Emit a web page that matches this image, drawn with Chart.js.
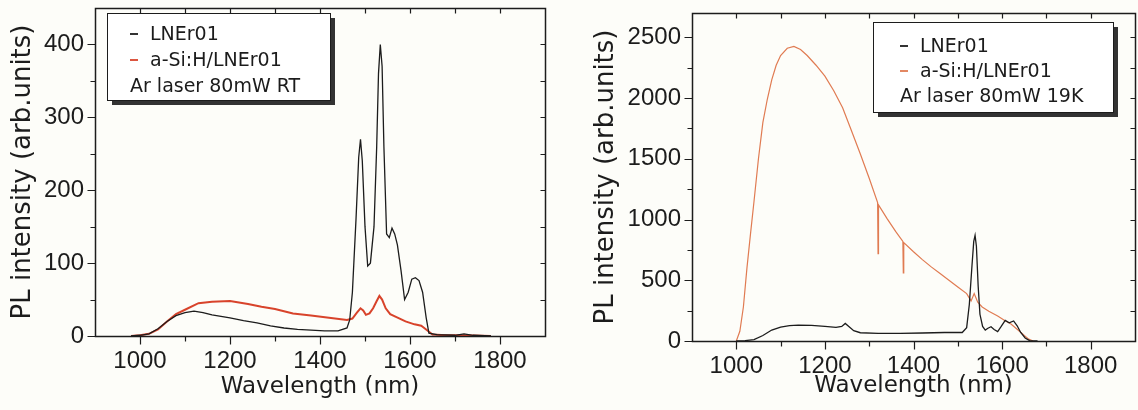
<!DOCTYPE html>
<html lang="en">
<head>
<meta charset="UTF-8">
<title>PL spectra LNEr01</title>
<script src="https://cdn.jsdelivr.net/npm/chart.js@4.4.1/dist/chart.umd.min.js"></script>
<style>
    body { margin: 0; background: #fdfdf9; }
    .wrap { position: relative; width: 1138px; height: 410px; }
    canvas { position: absolute; top: 0; }
    #rtChart { left: 0; }
    #lowTChart { left: 569px; }
</style>
</head>
<body>
<div class="wrap">
    <canvas id="rtChart" width="569" height="410"></canvas>
    <canvas id="lowTChart" width="569" height="410"></canvas>
</div>
<script>
// Tick labels
const xTickLabels = [1000, 1200, 1400, 1600, 1800];
const rtYTicks = [0, 100, 200, 300, 400];
const lowTYTicks = [0, 500, 1000, 1500, 2000, 2500];

// Room temperature, LNEr01 (black)
const rtBlackNm = [980, 1000, 1020, 1040, 1060, 1080, 1100, 1120, 1140, 1160, 1180, 1200, 1230, 1260, 1290, 1320, 1350, 1380, 1410, 1440, 1460, 1466, 1472, 1480, 1486, 1490, 1494, 1500, 1506, 1512, 1520, 1526, 1530, 1534, 1538, 1542, 1548, 1554, 1560, 1566, 1572, 1580, 1588, 1596, 1604, 1612, 1620, 1628, 1636, 1642, 1660, 1700, 1720, 1740, 1780];
const rtBlackVal = [0, 1, 3, 10, 20, 28, 32, 34, 32, 29, 27, 25, 21, 18, 14, 11, 9, 8, 7, 7, 11, 22, 60, 160, 245, 270, 240, 150, 96, 100, 150, 260, 360, 400, 370, 260, 140, 135, 148, 140, 125, 90, 50, 60, 78, 80, 76, 60, 25, 4, 2, 1, 3, 1, 0];

// Room temperature, a-Si:H/LNEr01 (red)
const rtRedNm = [980, 1000, 1020, 1040, 1060, 1080, 1100, 1130, 1160, 1200, 1240, 1270, 1300, 1340, 1380, 1420, 1460, 1472, 1482, 1490, 1496, 1502, 1510, 1518, 1526, 1532, 1538, 1546, 1556, 1570, 1590, 1610, 1625, 1638, 1650, 1680, 1720, 1780];
const rtRedVal = [0, 1, 3, 9, 20, 30, 36, 45, 47, 48, 44, 40, 37, 31, 28, 25, 22, 24, 32, 38, 35, 29, 31, 38, 48, 55, 50, 38, 30, 26, 20, 16, 14, 8, 2, 1, 1, 0];

// 19 K, LNEr01 (black)
const lowTBlackNm = [1000, 1020, 1040, 1060, 1080, 1100, 1120, 1140, 1170, 1200, 1225, 1238, 1246, 1254, 1265, 1280, 1320, 1370, 1420, 1470, 1510, 1520, 1526, 1532, 1536, 1539, 1542, 1546, 1550, 1556, 1562, 1568, 1575, 1582, 1590, 1598, 1607, 1616, 1626, 1634, 1642, 1652, 1662, 1680];
const lowTBlackVal = [0, 3, 12, 45, 90, 115, 127, 130, 128, 120, 112, 120, 145, 120, 85, 68, 62, 62, 66, 70, 70, 110, 300, 620, 820, 870, 780, 450, 220, 120, 90, 105, 117, 95, 78, 120, 170, 150, 165, 125, 70, 25, 3, 0];

// 19 K, a-Si:H/LNEr01 (red)
const lowTRedNm = [1000, 1008, 1016, 1024, 1032, 1040, 1050, 1060, 1070, 1080, 1090, 1100, 1115, 1130, 1145, 1160, 1180, 1200, 1220, 1240, 1260, 1280, 1300, 1319, 1320, 1321, 1340, 1360, 1376, 1377, 1378, 1400, 1420, 1440, 1460, 1480, 1500, 1520, 1530, 1537, 1545, 1555, 1570, 1590, 1605, 1620, 1636, 1650, 1660, 1670];
const lowTRedVal = [0, 80, 280, 600, 880, 1150, 1500, 1800, 1990, 2150, 2270, 2350, 2410, 2425, 2400, 2350, 2270, 2180, 2060, 1920, 1730, 1540, 1340, 1140, 720, 1120, 1010, 900, 820, 560, 810, 735, 670, 610, 555, 500, 445, 390, 330, 390, 320, 280, 245, 205, 170, 140, 90, 45, 15, 0];

const ink = '#1c1c1c';

function toXY(xs, ys) {
    return xs.map((x, i) => ({ x: x, y: ys[i] }));
}

// frame with mirrored ticks + boxed legend with shadow
function makeDecor(s) {
    return {
        id: 'decor',
        beforeDatasetsDraw(chart) {
            // drop shadow of the legend panel, laid down before the lines
            const ctx = chart.ctx;
            const L = s.legend;
            ctx.save();
            ctx.fillStyle = '#333333';
            ctx.fillRect(L.x + 5, L.y + 5, L.w, L.h);
            ctx.restore();
        },
        afterDraw(chart) {
            const ctx = chart.ctx;
            const a = chart.chartArea;
            const xs = chart.scales.x, ys = chart.scales.y;
            ctx.save();
            try {
                const l = Math.round(a.left) + 0.5, t = Math.round(a.top) + 0.5;
                const r = Math.round(a.right) + 0.5, b = Math.round(a.bottom) + 0.5;
                ctx.strokeStyle = ink;
                ctx.lineWidth = 1.5;
                ctx.strokeRect(l, t, r - l, b - t);

                ctx.lineWidth = 1.2;
                ctx.beginPath();
                for (let v = 1000; v <= 1800; v += 100) {
                    const px = Math.round(xs.getPixelForValue(v)) + 0.5;
                    const len = v % 200 === 0 ? 8 : 5;
                    ctx.moveTo(px, b);
                    ctx.lineTo(px, b + len);
                    ctx.moveTo(px, t);
                    ctx.lineTo(px, t + 5);
                }
                for (let v = 0; v < s.yMax; v += s.yMinor) {
                    const py = Math.round(ys.getPixelForValue(v)) + 0.5;
                    const len = v % s.yMajor === 0 ? 8 : 5;
                    ctx.moveTo(l, py);
                    ctx.lineTo(l - len, py);
                    if (v > 0) {
                        ctx.moveTo(r, py);
                        ctx.lineTo(r - 5, py);
                    }
                }
                ctx.stroke();

                // legend panel
                const L = s.legend;
                ctx.strokeStyle = '#333333';
                ctx.lineWidth = 5;
                ctx.beginPath();
                ctx.moveTo(L.x + L.w + 2.5, L.y + 5);
                ctx.lineTo(L.x + L.w + 2.5, L.y + L.h + 2.5);
                ctx.lineTo(L.x + 5, L.y + L.h + 2.5);
                ctx.stroke();

                ctx.fillStyle = '#ffffff';
                ctx.fillRect(L.x, L.y, L.w, L.h);
                ctx.lineWidth = 1;
                ctx.strokeStyle = ink;
                ctx.strokeRect(L.x + 0.5, L.y + 0.5, L.w, L.h);

                ctx.font = '19px "DejaVu Sans"';
                ctx.textBaseline = 'alphabetic';
                ctx.textAlign = 'left';
                const labels = ['LNEr01', 'a-Si:H/LNEr01'];
                const colors = [ink, s.redColor];
                labels.forEach((txt, i) => {
                    const base = L.y + L.first + i * L.step;
                    ctx.strokeStyle = colors[i];
                    ctx.lineWidth = 1.8;
                    ctx.beginPath();
                    ctx.moveTo(L.x + L.dashX, base - 6);
                    ctx.lineTo(L.x + L.dashX + 8, base - 6);
                    ctx.stroke();
                    ctx.fillStyle = ink;
                    ctx.fillText(txt, L.x + L.textX, base);
                });
                ctx.fillStyle = ink;
                ctx.fillText(s.note, L.x + L.dashX, L.y + L.first + 2 * L.step);
            } catch (e) {
                console.error(e);
            }
            ctx.restore();
        }
    };
}

function makeChart(id, s) {
    const tickFont = { family: '"Liberation Sans", Arial, sans-serif', size: 24 };
    return new Chart(document.getElementById(id), {
        type: 'line',
        data: {
            datasets: [
                { label: 'LNEr01', data: toXY(s.blackNm, s.blackVal), borderColor: ink, borderWidth: 1.3 },
                { label: 'a-Si:H/LNEr01', data: toXY(s.redNm, s.redVal), borderColor: s.redColor, borderWidth: s.redWidth }
            ]
        },
        options: {
            responsive: false,
            animation: false,
            elements: {
                point: { radius: 0 },
                line: { tension: 0, fill: false }
            },
            layout: { padding: s.padding },
            plugins: {
                legend: { display: false },
                tooltip: { enabled: false }
            },
            scales: {
                x: {
                    type: 'linear', min: 900, max: 1900,
                    afterBuildTicks: sc => { sc.ticks = xTickLabels.map(v => ({ value: v })); },
                    afterFit: sc => { sc.height = s.xHeight; sc.paddingLeft = 0; sc.paddingRight = 0; },
                    grid: { display: false, drawTicks: false },
                    border: { display: false },
                    ticks: { padding: 11, font: tickFont, color: ink, maxRotation: 0, autoSkip: false, callback: v => String(v) },
                    title: {
                        display: true, text: 'Wavelength (nm)', color: ink,
                        font: { family: '"DejaVu Sans", sans-serif', size: 23 },
                        padding: { top: 0, bottom: s.xTitlePad }
                    }
                },
                y: {
                    type: 'linear', min: 0, max: s.yMax,
                    afterBuildTicks: sc => { sc.ticks = s.yTicks.map(v => ({ value: v })); },
                    afterFit: sc => { sc.width = s.yWidth; sc.paddingTop = 0; sc.paddingBottom = 0; },
                    grid: { display: false, drawTicks: false },
                    border: { display: false },
                    ticks: { padding: 11, font: tickFont, color: ink, autoSkip: false, callback: v => String(v) },
                    title: {
                        display: true, text: 'PL intensity (arb.units)', color: ink,
                        font: { family: '"DejaVu Sans", sans-serif', size: 26 },
                        padding: { top: s.yTitlePad, bottom: 0 }
                    }
                }
            }
        },
        plugins: [makeDecor(s)]
    });
}

makeChart('rtChart', {
    blackNm: rtBlackNm, blackVal: rtBlackVal,
    redNm: rtRedNm, redVal: rtRedVal,
    redColor: '#d8432b', redWidth: 2,
    yMax: 450, yTicks: rtYTicks, yMinor: 50, yMajor: 100,
    padding: { left: 0, top: 8, right: 24, bottom: 0 },
    yWidth: 95, xHeight: 74, xTitlePad: 9, yTitlePad: 8,
    legend: { x: 107, y: 13, w: 223, h: 87, dashX: 23, textX: 43, first: 27, step: 26 },
    note: 'Ar laser 80mW RT'
});

makeChart('lowTChart', {
    blackNm: lowTBlackNm, blackVal: lowTBlackVal,
    redNm: lowTRedNm, redVal: lowTRedVal,
    redColor: '#e07b52', redWidth: 1.2,
    yMax: 2700, yTicks: lowTYTicks, yMinor: 250, yMajor: 500,
    padding: { left: 0, top: 13, right: 3, bottom: 0 },
    yWidth: 123, xHeight: 69, xTitlePad: 10, yTitlePad: 22,
    legend: { x: 304, y: 22, w: 240, h: 90, dashX: 27, textX: 47, first: 30, step: 25 },
    note: 'Ar laser 80mW 19K'
});
</script>
</body>
</html>
